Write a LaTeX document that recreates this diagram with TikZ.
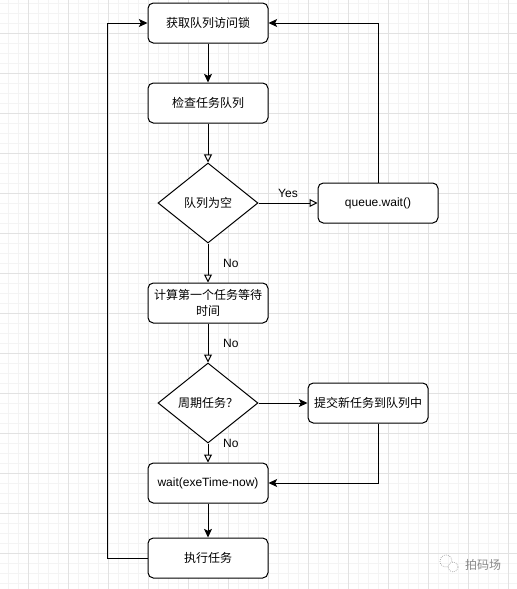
\documentclass[tikz,border=0pt]{standalone}
\usepackage{fontspec}
\setmainfont{Liberation Sans}
\newfontfamily\cjk{Noto Sans CJK SC}
\usetikzlibrary{arrows.meta,shapes.geometric}
\definecolor{gridmajor}{HTML}{E2E2E2}
\definecolor{gridminor}{HTML}{F4F4F4}
\definecolor{markgray}{HTML}{8A8A8A}
\tikzset{
	stepbox/.style={draw, rounded corners=4pt, minimum width=90pt, minimum height=30pt, inner sep=2pt, line width=0.75pt, align=center, font=\fontsize{9pt}{12pt}\selectfont},
	cjkbox/.style={stepbox, font=\cjk\fontsize{9pt}{12pt}\selectfont},
	decision/.style={diamond, draw, minimum width=75pt, minimum height=60pt, inner sep=0pt, line width=0.75pt, font=\cjk\fontsize{9pt}{12pt}\selectfont},
	solid arrow/.style={-{Stealth[length=6.5pt,width=6pt,inset=1.5pt]}, line width=0.75pt},
	open arrow/.style={-{Triangle[open,length=6pt,width=6pt]}, line width=0.75pt},
	edgetext/.style={font=\fontsize{9pt}{11pt}\selectfont, inner sep=1pt}
}
\begin{document}
\begin{tikzpicture}[x=0.75pt,y=-0.75pt]
			\useasboundingbox[fill=white] (0,0) rectangle (517,589);
			% background grid
			\foreach \x in {8,18,...,508} \draw[gridminor, line width=0.75pt] (\x,0) -- (\x,589);
			\foreach \y in {3,13,...,583} \draw[gridminor, line width=0.75pt] (0,\y) -- (517,\y);
			\foreach \x in {28,68,...,508} \draw[gridmajor, line width=0.75pt] (\x,0) -- (\x,589);
			\foreach \y in {33,73,...,553} \draw[gridmajor, line width=0.75pt] (0,\y) -- (517,\y);
			% nodes
			\node[cjkbox, fill=white] (lock) at (208,23) {获取队列访问锁};
			\node[cjkbox, fill=white] (check) at (208,103) {检查任务队列};
			\node[decision, fill=white] (empty) at (208,203) {队列为空};
			\node[stepbox, fill=white] (qwait) at (378,203) {queue.wait()};
			\node[cjkbox, fill=white] (calc) at (208,303) {计算第一个任务等待\\时间};
			\node[decision, fill=white] (period) at (208,403) {周期任务？};
			\node[cjkbox, fill=white] (submit) at (368,403) {提交新任务到队列中};
			\node[stepbox, fill=white] (twait) at (208,483) {wait(exeTime-now)};
			\node[cjkbox, fill=white] (run) at (208,558) {执行任务};
			% connectors
			\draw[solid arrow] (lock) -- (check);
			\draw[open arrow] (check) -- (empty);
			\draw[open arrow] (empty) -- node[edgetext, above=3pt]{Yes} (qwait);
			\draw[solid arrow] (qwait.north) |- (lock.east);
			\draw[open arrow] (empty) -- node[edgetext, right=10pt]{No} (calc);
			\draw[open arrow] (calc) -- node[edgetext, right=10pt]{No} (period);
			\draw[solid arrow] (period) -- (submit);
			\draw[open arrow] (period) -- node[edgetext, right=10pt, pos=0]{No} (twait);
			\draw[solid arrow] (submit.south -| qwait.north) |- (twait.east);
			\draw[solid arrow] (twait) -- (run);
			\draw[solid arrow] (run.west) -- ++(-40,0) |- (lock.west);
			% watermark
			\draw[markgray, densely dotted, line width=0.5pt] (446,561) circle[radius=6];
			\draw[markgray, densely dotted, line width=0.5pt, fill=white] (453,567) circle[radius=5];
			\node[markgray, inner sep=0pt, font=\cjk\fontsize{9pt}{12pt}\selectfont] (mark) at (483,565) {拍码场};
		\end{tikzpicture}
\end{document}
